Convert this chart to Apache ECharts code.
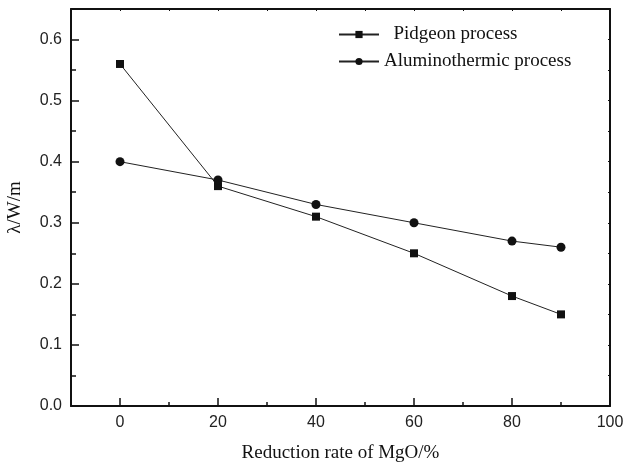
<!DOCTYPE html>
<html>
<head>
<meta charset="utf-8">
<script src="https://cdn.jsdelivr.net/npm/echarts@6/dist/echarts.min.js"></script>
<style>
  html, body { margin: 0; padding: 0; background: #fff; }
  #chart { width: 625px; height: 464px; }
</style>
</head>
<body>
<div id="chart"></div>
<script>
// Reduction rate of MgO (%) at which thermal conductivity was measured
const reductionRate = [0, 20, 40, 60, 80, 90];
// Thermal conductivity λ (W/m) for each process
const pidgeon = [0.56, 0.36, 0.31, 0.25, 0.18, 0.15];
const aluminothermic = [0.40, 0.37, 0.33, 0.30, 0.27, 0.26];

// Tick positions
const xMajorTicks = [0, 20, 40, 60, 80, 100];
const xMinorTicks = [10, 30, 50, 70, 90];
const xTopTicks = [0, 10, 20, 30, 40, 50, 60, 70, 80, 90, 100];

const serif = '"Liberation Serif", "Times New Roman", serif';
const sans = '"Liberation Sans", Arial, sans-serif';

function pairs(xs, ys) {
  return xs.map((x, i) => [x, ys[i]]);
}

const chart = echarts.init(document.getElementById('chart'), null, { renderer: 'canvas' });

const axisLine = { show: true, onZero: false, lineStyle: { color: '#111', width: 2 } };
const noLine = { show: false, onZero: false };

chart.setOption({
  animation: false,
  backgroundColor: '#fff',
  grid: { left: 71, right: 15, top: 9, bottom: 58, containLabel: false, outerBoundsMode: 'none' },
  legend: {
    orient: 'vertical',
    left: 333,
    top: 20,
    itemWidth: 40,
    itemHeight: 9,
    itemGap: 8,
    textStyle: { fontFamily: serif, fontSize: 19, color: '#111' },
    formatter: name => (name === 'Pidgeon process' ? '  ' + name : name),
    data: ['Pidgeon process', 'Aluminothermic process']
  },
  xAxis: [
    {
      type: 'value', position: 'bottom', min: -10, max: 100,
      axisLine: axisLine,
      splitLine: { show: false },
      axisTick: { show: true, inside: true, length: 8, customValues: xMajorTicks,
        lineStyle: { color: '#111', width: 1.5 } },
      axisLabel: { show: true, customValues: xMajorTicks, margin: 9,
        fontFamily: sans, fontSize: 16, color: '#222' },
      name: 'Reduction rate of MgO/%', nameLocation: 'middle', nameGap: 38,
      nameTextStyle: { fontFamily: serif, fontSize: 19, color: '#111' }
    },
    {
      type: 'value', position: 'bottom', min: -10, max: 100,
      axisLine: noLine, splitLine: { show: false },
      axisTick: { show: true, inside: true, length: 4, customValues: xMinorTicks,
        lineStyle: { color: '#111', width: 1.5 } },
      axisLabel: { show: false }
    },
    {
      type: 'value', position: 'top', min: -10, max: 100,
      axisLine: axisLine, splitLine: { show: false },
      axisTick: { show: true, inside: true, length: 2, customValues: xTopTicks,
        lineStyle: { color: '#111', width: 1 } },
      axisLabel: { show: false }
    }
  ],
  yAxis: [
    {
      type: 'value', position: 'left', min: 0, max: 0.65, interval: 0.1,
      axisLine: axisLine, splitLine: { show: false },
      axisTick: { show: true, inside: true, length: 8,
        lineStyle: { color: '#111', width: 1.5 } },
      axisLabel: { show: true, margin: 9, showMaxLabel: false,
        formatter: v => v.toFixed(1),
        fontFamily: sans, fontSize: 16, color: '#222' },
      name: 'λ/W/m', nameLocation: 'middle', nameGap: 46, nameRotate: 90,
      nameTextStyle: { fontFamily: serif, fontSize: 19, color: '#111' }
    },
    {
      type: 'value', position: 'left', min: 0, max: 0.65, interval: 0.05,
      axisLine: noLine, splitLine: { show: false },
      axisTick: { show: true, inside: true, length: 5,
        lineStyle: { color: '#111', width: 1.5 } },
      axisLabel: { show: false, showMaxLabel: false }
    },
    {
      type: 'value', position: 'right', min: 0, max: 0.65, interval: 0.05,
      axisLine: axisLine, splitLine: { show: false },
      axisTick: { show: true, inside: true, length: 2,
        lineStyle: { color: '#111', width: 1 } },
      axisLabel: { show: false }
    }
  ],
  series: [
    {
      name: 'Pidgeon process',
      type: 'line',
      data: pairs(reductionRate, pidgeon),
      symbol: 'rect', symbolSize: 8,
      lineStyle: { color: '#222', width: 1 },
      itemStyle: { color: '#111' },
      emphasis: { disabled: true }
    },
    {
      name: 'Aluminothermic process',
      type: 'line',
      data: pairs(reductionRate, aluminothermic),
      symbol: 'circle', symbolSize: 9,
      lineStyle: { color: '#222', width: 1 },
      itemStyle: { color: '#111' },
      emphasis: { disabled: true }
    }
  ]
});
</script>
</body>
</html>
